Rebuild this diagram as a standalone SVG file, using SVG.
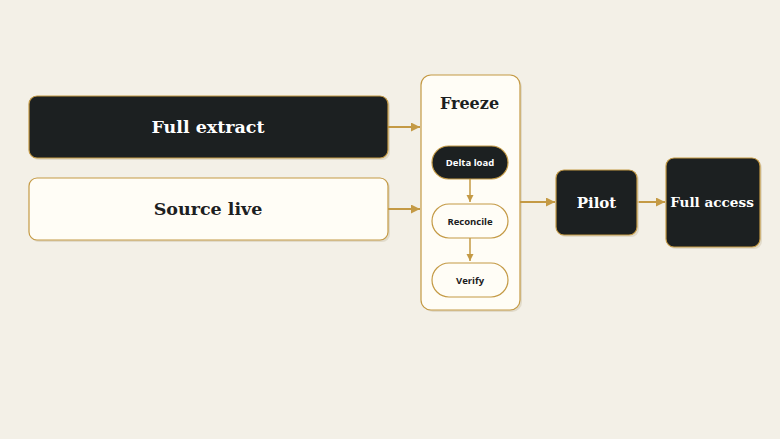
<svg xmlns="http://www.w3.org/2000/svg" width="780" height="439" viewBox="0 0 780 439">
<style>
.bg{fill:#f3f0e7}
.dark{fill:#1c2021;stroke:#c49a45;stroke-width:1.2}
.light{fill:#fffdf6;stroke:#c49a45;stroke-width:1.2}
.shadow{fill:#d9d2bf;opacity:0.7}
.t{font-family:"DejaVu Serif","Liberation Serif",serif;font-weight:bold;font-size:17.5px;text-anchor:middle;dominant-baseline:central}
.ts{font-family:"Open Sans","DejaVu Sans",sans-serif;font-weight:bold;font-size:9.5px;text-anchor:middle;dominant-baseline:central}
.w{fill:#ffffff}
.k{fill:#1c2021}
.c{stroke:#c49a45;stroke-width:2;fill:none;marker-end:url(#ah)}
.c2{stroke:#c49a45;stroke-width:1.5;fill:none;marker-end:url(#ah2)}
</style>
<defs>
<marker id="ah" viewBox="0 0 10 10" refX="10" refY="5" markerWidth="4.5" markerHeight="4.5" orient="auto"><path d="M0,0L10,5L0,10z" fill="#c49a45"/></marker>
<marker id="ah2" viewBox="0 0 10 10" refX="10" refY="5" markerWidth="5" markerHeight="5" orient="auto"><path d="M0,0L10,5L0,10z" fill="#c49a45"/></marker>
</defs>
<rect class="bg" x="0" y="0" width="780" height="439"/>
<g id="full-extract">
<rect class="shadow" x="31" y="98" width="359" height="62" rx="8"/>
<rect class="dark" x="29" y="96" width="359" height="62" rx="8"/>
<text class="t w" x="208" y="127">Full extract</text>
</g>
<g id="source-live">
<rect class="shadow" x="31" y="180" width="359" height="62" rx="8"/>
<rect class="light" x="29" y="178" width="359" height="62" rx="8"/>
<text class="t k" x="208" y="209">Source live</text>
</g>
<g id="freeze">
<rect class="shadow" x="423" y="77" width="99" height="235" rx="10"/>
<rect class="light" x="421" y="75" width="99" height="235" rx="10"/>
<text class="t k" x="469.5" y="103" style="font-size:16px">Freeze</text>
</g>
<g id="connectors">
<path class="c" d="M388,127H420"/>
<path class="c" d="M388,209H420"/>
<path class="c" d="M520,202H555"/>
<path class="c" d="M637,202H665"/>
<path class="c2" d="M470,179V202"/>
<path class="c2" d="M470,238V261"/>
</g>
<g id="delta-load">
<rect class="dark" x="432" y="146" width="76" height="33" rx="16.5"/>
<text class="ts w" x="470" y="162.5">Delta load</text>
</g>
<g id="reconcile">
<rect class="light" x="432" y="204" width="76" height="34" rx="17"/>
<text class="ts k" x="470" y="221">Reconcile</text>
</g>
<g id="verify">
<rect class="light" x="432" y="263" width="76" height="34" rx="17"/>
<text class="ts k" x="470" y="280">Verify</text>
</g>
<g id="pilot">
<rect class="shadow" x="558" y="172" width="81" height="65" rx="8"/>
<rect class="dark" x="556" y="170" width="81" height="65" rx="8"/>
<text class="t w" x="596.5" y="202.5" style="font-size:15px">Pilot</text>
</g>
<g id="full-access">
<rect class="shadow" x="668" y="160" width="94" height="89" rx="8"/>
<rect class="dark" x="666" y="158" width="94" height="89" rx="8"/>
<text class="t w" x="712" y="202" style="font-size:13.6px">Full access</text>
</g>
</svg>
